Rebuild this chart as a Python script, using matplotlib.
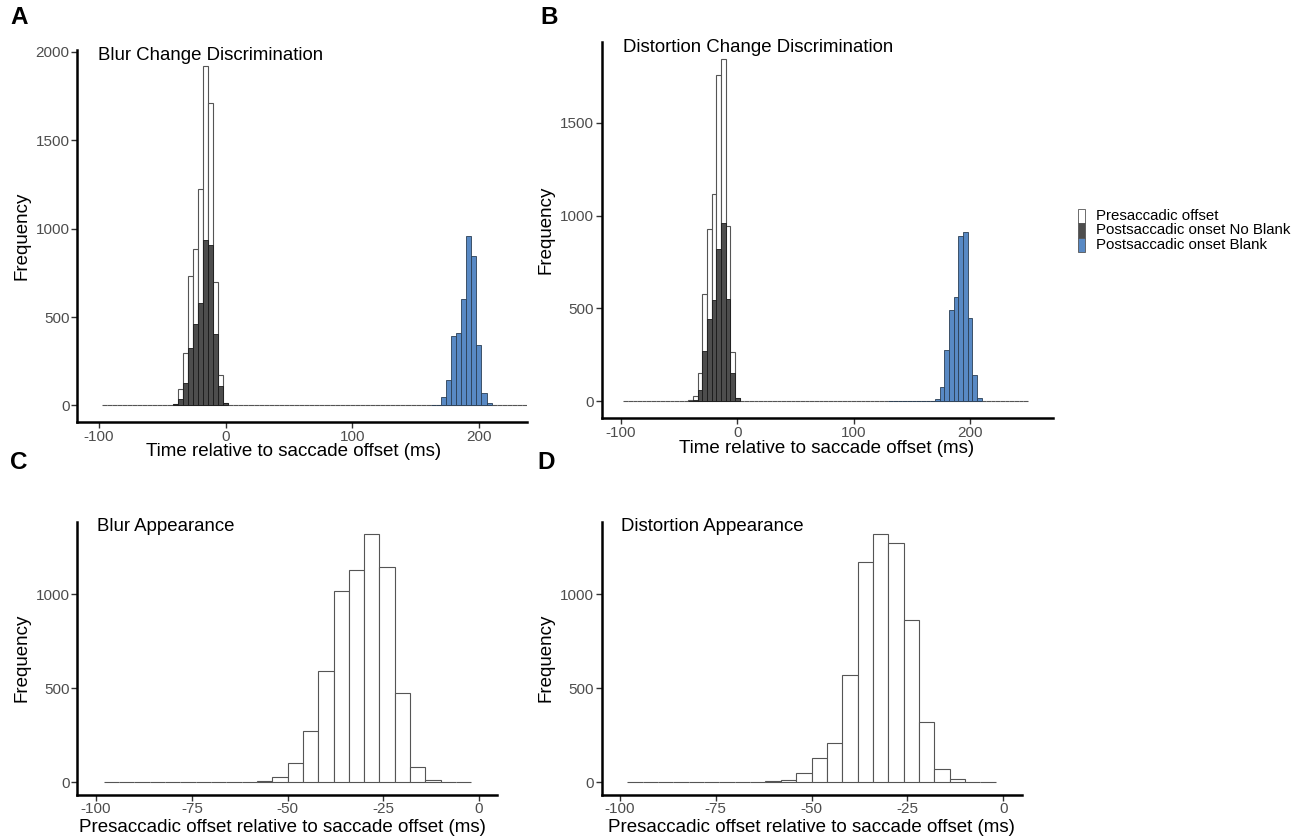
import numpy as np
import matplotlib
matplotlib.use("Agg")
import matplotlib.pyplot as plt
from matplotlib.patches import Rectangle

plt.rcParams['font.family'] = ['Liberation Sans', 'DejaVu Sans']
plt.rcParams['axes.unicode_minus'] = False

BIN = 4

# ---------------- data ----------------
# Panel A: Blur Change Discrimination
a_grid = (-98, 238)
a_pre_start = -50
a_pre = [2, 0, 9, 94, 298, 733, 884, 1224, 1918, 1709, 699, 170, 15]
a_nob_start = -42
a_nob = [9, 34, 128, 326, 459, 581, 935, 907, 402, 109, 15]
a_blank_start = 162
a_blank = [2, 3, 45, 142, 393, 408, 602, 961, 848, 344, 70, 11]

# Panel B: Distortion Change Discrimination
b_grid = (-98, 250)
b_pre_start = -78
b_pre = [2, 0, 0, 2, 2, 2, 0, 2, 3, 6, 30, 153, 580, 930, 1115, 1758, 1842, 944, 265, 18]
b_nob_start = -42
b_nob = [3, 7, 63, 268, 441, 547, 819, 961, 549, 153, 18]
b_blank_start = 130
b_blank = [1, 0, 0, 0, 1, 0, 0, 2, 3, 3, 12, 75, 276, 491, 561, 890, 911, 448, 143, 15]

# Panel C: Blur Appearance
c_grid = (-98, -2)
c_start = -78
c_counts = [1, 1, 3, 0, 0, 5, 27, 101, 273, 590, 1018, 1129, 1319, 1145, 477, 81, 12]

# Panel D: Distortion Appearance
d_grid = (-98, -2)
d_start = -90
d_counts = [1, 0, 1, 1, 0, 0, 2, 4, 10, 48, 131, 207, 572, 1172, 1319, 1271, 865, 319, 69, 18]

legend_labels = ["Presaccadic offset", "Postsaccadic onset No Blank", "Postsaccadic onset Blank"]
titles = ["Blur Change Discrimination", "Distortion Change Discrimination",
          "Blur Appearance", "Distortion Appearance"]
xlabels = ["Time relative to saccade offset (ms)", "Time relative to saccade offset (ms)",
           "Presaccadic offset relative to saccade offset (ms)",
           "Presaccadic offset relative to saccade offset (ms)"]

WHITE = "white"
DARK = "#4d4d4d"
BLUE = "#5889c4"
EDGE_W = "#555555"
EDGE_D = "#1a1a1a"

W, H = 1301, 840
fig = plt.figure(figsize=(W / 100, H / 100), dpi=100)


def px_axes(l, r, t, b):
    return fig.add_axes([l / W, 1 - b / H, (r - l) / W, (b - t) / H])


def draw_hist(ax, start, counts, fc, ec, lw, grid=None):
    if grid is not None:
        edges = np.arange(grid[0], grid[1], BIN)
        h = np.zeros(len(edges))
        idx0 = int((start - grid[0]) // BIN)
        h[idx0:idx0 + len(counts)] = counts
    else:
        edges = start + BIN * np.arange(len(counts))
        h = np.array(counts, dtype=float)
    ax.bar(edges, h, width=BIN, align='edge', facecolor=fc, edgecolor=ec, linewidth=lw)


def style(ax, ymax, xlim, xticks, yticks, title, xlabel, xlab_x=0.5, xlab_y=None):
    ax.set_ylim(-0.05 * ymax, 1.05 * ymax)
    ax.set_xlim(*xlim)
    ax.set_xticks(xticks)
    ax.set_yticks(yticks)
    for s in ["top", "right"]:
        ax.spines[s].set_visible(False)
    for s in ["left", "bottom"]:
        ax.spines[s].set_linewidth(1.8)
        ax.spines[s].set_color("black")
    ax.tick_params(length=4, width=1.0, color="#333333", labelsize=11.0,
                   labelcolor="#4d4d4d", pad=1.5)
    ax.set_xlabel(xlabel, fontsize=13.5, color="black")
    ax.set_ylabel("Frequency", fontsize=13.5, color="black", labelpad=4)
    bbox = ax.get_position()
    ax.xaxis.set_label_coords(xlab_x, -xlab_y / (bbox.height * H), transform=ax.transAxes)
    ax.xaxis.label.set_va("center")
    ax.text(0.047, 0.985, title, transform=ax.transAxes, fontsize=13.4,
            ha="left", va="center")


# Panel A
axA = px_axes(77.3, 527.3, 49.5, 422.3)
draw_hist(axA, a_pre_start, a_pre, WHITE, EDGE_W, 0.8, grid=a_grid)
draw_hist(axA, a_nob_start, a_nob, DARK, EDGE_D, 0.6)
draw_hist(axA, a_blank_start, a_blank, BLUE, "#2b3f55", 0.6)
style(axA, max(a_pre), (-117.2, 238.2), [-100, 0, 100, 200],
      [0, 500, 1000, 1500, 2000], titles[0], xlabels[0],
      xlab_x=(294 - 77.3) / 450.0, xlab_y=29.5)

# Panel B
axB = px_axes(601.7, 1053.3, 42.3, 418.3)
draw_hist(axB, b_pre_start, b_pre, WHITE, EDGE_W, 0.8, grid=b_grid)
draw_hist(axB, b_nob_start, b_nob, DARK, EDGE_D, 0.6)
draw_hist(axB, b_blank_start, b_blank, BLUE, "#2b3f55", 0.6)
style(axB, max(b_pre), (-116.5, 271.7), [-100, 0, 100, 200],
      [0, 500, 1000, 1500], titles[1], xlabels[1],
      xlab_x=(827 - 601.7) / 451.6, xlab_y=30)

# Panel C
axC = px_axes(77.3, 496.7, 522, 794.5)
draw_hist(axC, c_start, c_counts, WHITE, EDGE_W, 0.8, grid=c_grid)
style(axC, max(c_counts), (-104.9, 4.6), [-100, -75, -50, -25, 0],
      [0, 500, 1000], titles[2], xlabels[2],
      xlab_x=(282 - 77.3) / 419.4, xlab_y=33.5)

# Panel D
axD = px_axes(601.7, 1021.7, 522, 794.5)
draw_hist(axD, d_start, d_counts, WHITE, EDGE_W, 0.8, grid=d_grid)
style(axD, max(d_counts), (-104.7, 4.8), [-100, -75, -50, -25, 0],
      [0, 500, 1000], titles[3], xlabels[3],
      xlab_x=(811 - 601.7) / 420.0, xlab_y=33.5)

# Panel letters
for letter, (x, y) in zip("ABCD", [(10, 18), (540, 18), (10, 462), (537, 462)]):
    fig.text(x / W, 1 - y / H, letter, fontsize=17.5, fontweight="bold",
             ha="left", va="center")

# Legend (manual)
key_colors = [WHITE, DARK, BLUE]
key_top = 209
key_h = 14.3
for i, (lab, col) in enumerate(zip(legend_labels, key_colors)):
    y0 = key_top + i * key_h
    fig.patches.append(Rectangle(((1077.5) / W, 1 - (y0 + key_h) / H), 7.5 / W, key_h / H,
                                 transform=fig.transFigure, facecolor=col,
                                 edgecolor="#555555", linewidth=0.6))
    fig.text(1096 / W, 1 - (y0 + key_h / 2) / H, lab, fontsize=10.8,
             ha="left", va="center")

fig.savefig("out.png", dpi=100)
